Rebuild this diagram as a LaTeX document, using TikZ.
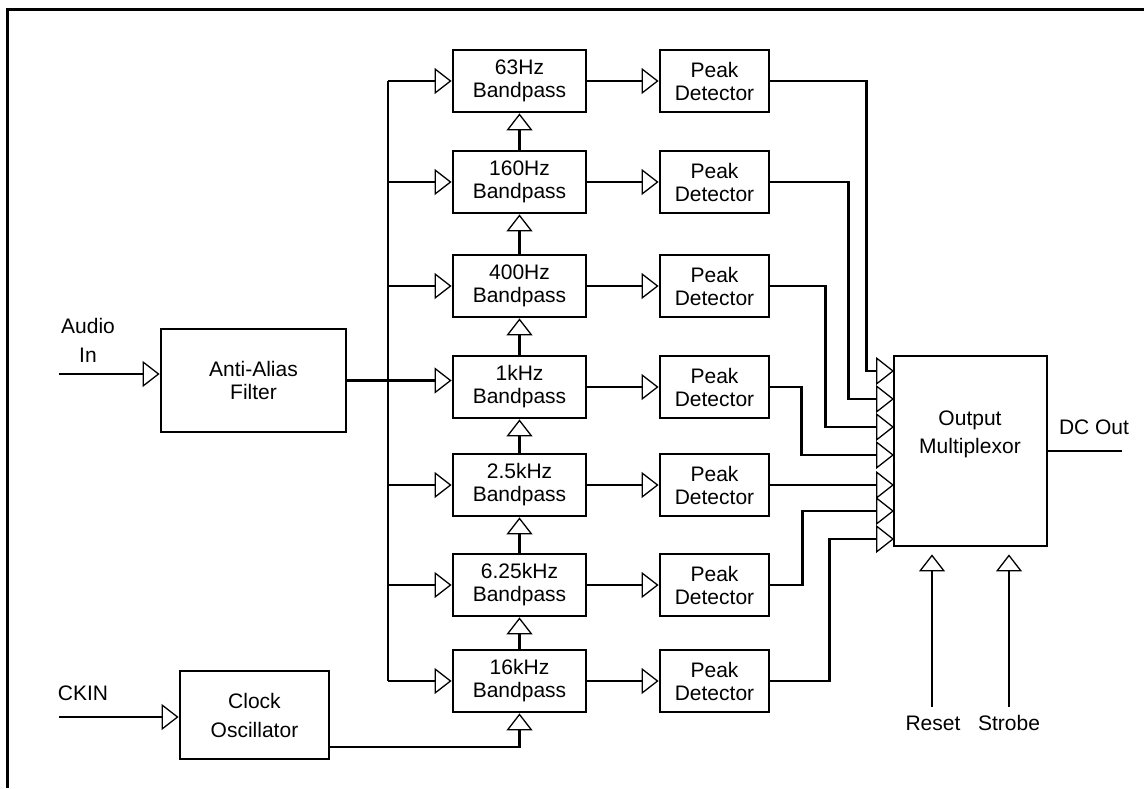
\documentclass[tikz,border=0pt]{standalone}
\usepackage{fontspec}
\setmainfont{Liberation Sans}
\usetikzlibrary{arrows.meta}
\begin{document}
\begin{tikzpicture}[x=1pt,y=-1pt,
  blk/.style={draw, line width=2.8pt, align=center, inner sep=0pt, font=\fontsize{21}{23}\selectfont},
  bp/.style={blk, minimum width=133pt, minimum height=62pt},
  pk/.style={blk, minimum width=109pt, minimum height=62pt},
  wire/.style={line width=2.4pt},
  arr/.style={wire, -{Triangle[open, length=17pt, width=26pt, line width=1.3pt]}},
  marr/.style={wire, -{Triangle[open, length=18pt, width=28pt, line width=1.3pt]}},
  lbl/.style={align=center, inner sep=0pt, font=\fontsize{21}{29}\selectfont},
]
\useasboundingbox (0,0) rectangle (1144,788);
% frame
\coordinate (fa) at (1144,9);
\coordinate (fb) at (7,9);
\coordinate (fc) at (7,788);
\draw[line width=3pt] (fa) -- (fb) -- (fc);

% blocks
\node[blk, minimum width=185pt, minimum height=103pt] (aaf) at (253.5,380.5) {Anti-Alias\\Filter};
\node[blk, minimum width=149pt, minimum height=88pt, font=\fontsize{21}{29}\selectfont] (clk) at (254.5,715) {Clock\\Oscillator};

\node[bp] (bp1) at (519.5,81) {63Hz\\Bandpass};
\node[bp] (bp2) at (519.5,182) {160Hz\\Bandpass};
\node[bp] (bp3) at (519.5,286) {400Hz\\Bandpass};
\node[bp] (bp4) at (519.5,387) {1kHz\\Bandpass};
\node[bp] (bp5) at (519.5,485) {2.5kHz\\Bandpass};
\node[bp] (bp6) at (519.5,585) {6.25kHz\\Bandpass};
\node[bp] (bp7) at (519.5,681) {16kHz\\Bandpass};

\foreach \i/\y in {1/81,2/182,3/286,4/387,5/485,6/585,7/681}
  \node[pk] (pk\i) at (714.5,\y) {Peak\\Detector};

\node[blk, minimum width=153pt, minimum height=190pt] (mux) at (970.5,451) {};
\node[lbl, font=\fontsize{21}{28}\selectfont] (muxl) at (970,434) {Output\\Multiplexor};

% labels
\node[lbl] (audiol) at (88,340) {Audio\\In};
\node[lbl] (ckinl) at (83,693) {CKIN};
\node[lbl] (dcl) at (1094,427) {DC Out};
\node[lbl] (rstl) at (933,723) {Reset};
\node[lbl] (stbl) at (1009,723) {Strobe};

% coordinates
\coordinate (ain) at (59,374);
\coordinate (ckin) at (59,717);
\coordinate (dcend) at (1122,451);
\coordinate (rst) at (932,707);
\coordinate (stb) at (1009,707);
\coordinate (bt) at (388,81);
\coordinate (bb) at (388,681);
\foreach \k/\y in {1/371,2/399,3/427,4/455,5/485,6/511,7/539}
  \coordinate (m\k) at (894,\y);

% inputs
\draw[arr] (ain) -- (ain -| aaf.west);
\draw[arr] (ckin) -- (ckin -| clk.west);
\draw[arr] (aaf.east) -- (aaf.east -| bp4.west);

% bus
\draw[wire] (bt) -- (bb);
\foreach \i in {1,2,3,5,6,7}
  \draw[arr] (bp\i.west -| bt) -- (bp\i.west);

% clock chain
\foreach \i/\j in {2/1,3/2,4/3,5/4,6/5,7/6}
  \draw[arr] (bp\i.north) -- (bp\j.south);
\draw[arr] ([yshift=-32pt]clk.east) -| (bp7.south);

% bandpass to peak
\foreach \i in {1,...,7}
  \draw[arr] (bp\i.east) -- (pk\i.west);

% peak to mux
\draw[marr] (pk1.east) -- ++(96,0) |- (m1);
\draw[marr] (pk2.east) -- ++(78,0) |- (m2);
\draw[marr] (pk3.east) -- ++(55,0) |- (m3);
\draw[marr] (pk4.east) -- ++(31,0) |- (m4);
\draw[marr] (pk5.east) -- (m5);
\draw[marr] (pk6.east) -- ++(32,0) |- (m6);
\draw[marr] (pk7.east) -- ++(59,0) |- (m7);

% reset / strobe / out
\draw[arr, shorten >=7pt] (rst) -- (rst |- mux.south);
\draw[arr, shorten >=7pt] (stb) -- (stb |- mux.south);
\draw[wire] (mux.east) -- (dcend);
\end{tikzpicture}
\end{document}
